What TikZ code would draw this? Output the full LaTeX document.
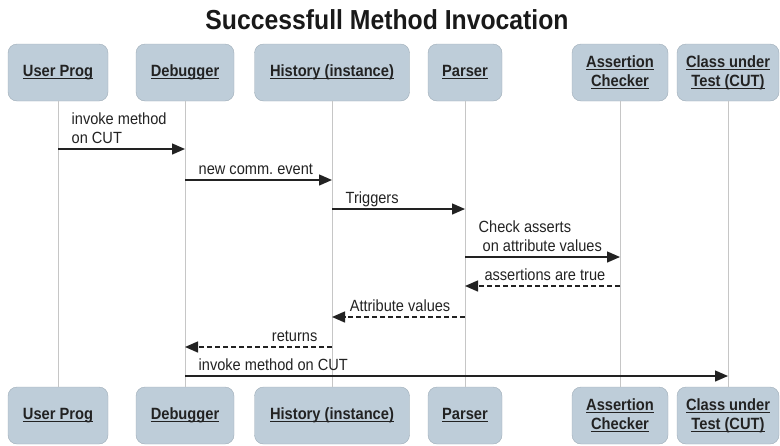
\documentclass[tikz,border=0pt]{standalone}
\usepackage{fontspec}
\setmainfont{Liberation Sans}[FakeStretch=0.9]
\usetikzlibrary{arrows.meta}
\definecolor{boxfill}{HTML}{BECDD9}
\definecolor{boxline}{HTML}{9FADB8}
\definecolor{lifegray}{HTML}{C6C6C6}
\definecolor{inkgray}{HTML}{222222}
\newsavebox{\ulbox}
\newcommand{\objul}[1]{\sbox{\ulbox}{#1}\rlap{\usebox{\ulbox}}\rule[-2.6pt]{\wd\ulbox}{1.2pt}}
\frenchspacing
\tikzset{
  objbox/.style={draw=boxline, fill=boxfill, rounded corners=9pt, minimum height=57pt,
    inner sep=0pt, align=center, text=inkgray, font=\fontsize{16.3}{19}\selectfont\bfseries},
  lifeline/.style={draw=lifegray, line width=0.9pt},
  msg/.style={draw=inkgray, line width=1.4pt, -{Triangle[length=13pt,width=11pt]}},
  reply/.style={msg, dash pattern=on 5pt off 3pt},
  msglabel/.style={yshift=5pt, inner sep=0pt, text depth=0pt,
    align=left, text=inkgray, font=\fontsize{16.2}{19}\selectfont},
  fwdlabel/.style={msglabel, anchor=south west, xshift=13pt},
  replylabel/.style={msglabel, anchor=south east, xshift=-14pt}
}
\begin{document}
\begin{tikzpicture}[x=1pt, y=-1pt]
\useasboundingbox (0,0) rectangle (780,445);
\node[font=\fontsize{27.5}{30}\selectfont\bfseries, text=black!90, anchor=base] (title) at (387,29) {Successfull Method Invocation};
\foreach \n/\x/\w/\t in {user/58/100/{\objul{User Prog}},
    dbg/185/98/{\objul{Debugger}},
    hist/332/155/{\objul{History (instance)}},
    pars/465/74/{\objul{Parser}},
    asrt/620/96/{\objul{Assertion}\\\objul{Checker}},
    cut/728/102/{\objul{Class under}\\\objul{Test (CUT)}}} {
  \node[objbox, minimum width=\w pt] (\n-t) at (\x,72.5) {\t};
  \node[objbox, minimum width=\w pt] (\n-b) at (\x,415.5) {\t};
  \draw[lifeline] (\n-t) -- (\n-b);
}
\foreach \i/\y in {1/149, 2/180, 3/209, 4/257, 5/286, 6/317, 7/347, 8/376}
  \coordinate (m\i) at (0,\y);
\draw[msg] (user-t |- m1) node[fwdlabel] {invoke method\\on CUT} -- (dbg-t |- m1);
\draw[msg] (dbg-t |- m2) node[fwdlabel] {new comm. event} -- (hist-t |- m2);
\draw[msg] (hist-t |- m3) node[fwdlabel] {Triggers} -- (pars-t |- m3);
\draw[msg] (pars-t |- m4) node[fwdlabel] {Check asserts\\\hspace*{4pt}on attribute values} -- (asrt-t |- m4);
\draw[reply] (asrt-t |- m5) node[replylabel] {assertions are true} -- (pars-t |- m5);
\draw[reply] (pars-t |- m6) node[replylabel] {Attribute values} -- (hist-t |- m6);
\draw[reply] (hist-t |- m7) node[replylabel] {returns} -- (dbg-t |- m7);
\draw[msg] (dbg-t |- m8) node[fwdlabel] {invoke method on CUT} -- (cut-t |- m8);
\end{tikzpicture}
\end{document}
